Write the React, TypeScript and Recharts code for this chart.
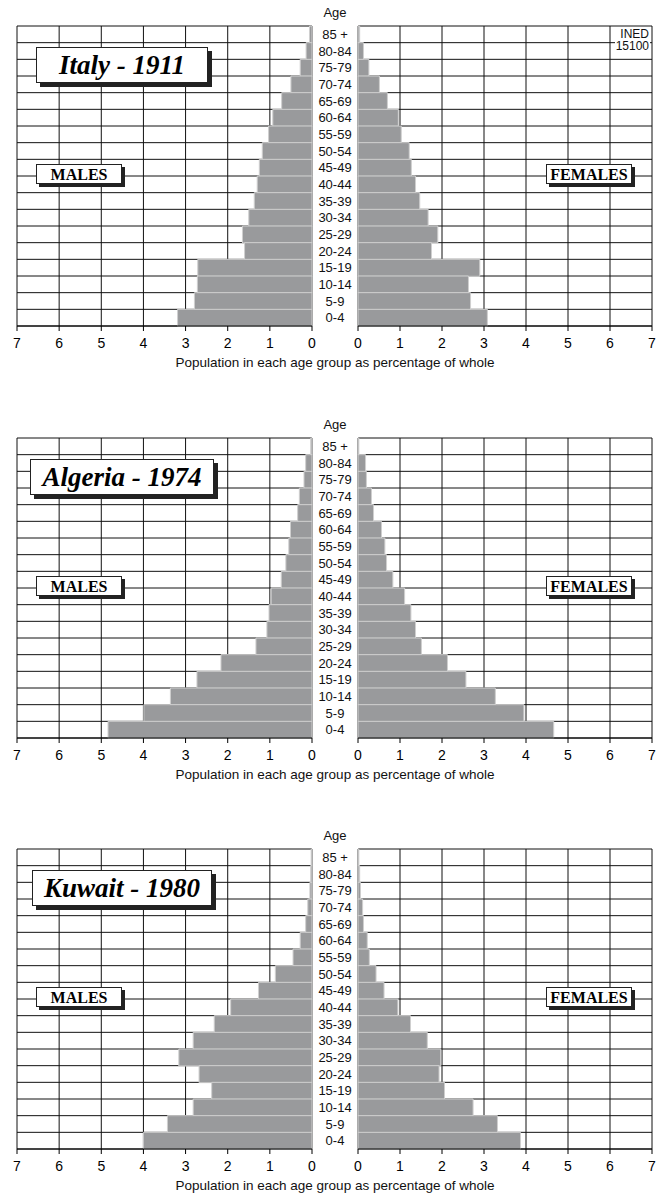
import React from "react";
import { BarChart, Bar, XAxis, YAxis, CartesianGrid } from "recharts";

// age groups, top row first
const AGES = [
    "85 +", "80-84", "75-79", "70-74", "65-69", "60-64", "55-59", "50-54", "45-49",
    "40-44", "35-39", "30-34", "25-29", "20-24", "15-19", "10-14", "5-9", "0-4",
];

const TICKS = [0, 1, 2, 3, 4, 5, 6, 7];

// % of whole population, same order as AGES
const ITALY_MALES = [0.06, 0.14, 0.28, 0.5, 0.72, 0.93, 1.03, 1.18, 1.25, 1.3, 1.37, 1.5, 1.65, 1.6, 2.71, 2.72, 2.79, 3.19];
const ITALY_FEMALES = [0.04, 0.13, 0.26, 0.51, 0.7, 0.96, 1.03, 1.22, 1.27, 1.37, 1.47, 1.67, 1.9, 1.75, 2.9, 2.63, 2.68, 3.08];

const ALGERIA_MALES = [0.03, 0.15, 0.19, 0.3, 0.34, 0.51, 0.55, 0.62, 0.73, 0.97, 1.02, 1.07, 1.33, 2.16, 2.73, 3.36, 3.99, 4.84];
const ALGERIA_FEMALES = [0.02, 0.18, 0.2, 0.32, 0.37, 0.56, 0.64, 0.68, 0.83, 1.11, 1.26, 1.37, 1.51, 2.13, 2.57, 3.27, 3.95, 4.66];

const KUWAIT_MALES = [0.02, 0.03, 0.05, 0.1, 0.15, 0.28, 0.45, 0.87, 1.27, 1.93, 2.32, 2.82, 3.16, 2.68, 2.38, 2.82, 3.43, 4.0];
const KUWAIT_FEMALES = [0.02, 0.04, 0.06, 0.11, 0.13, 0.22, 0.27, 0.43, 0.62, 0.95, 1.25, 1.65, 1.97, 1.93, 2.06, 2.74, 3.32, 3.87];

const SANS = "'Liberation Sans', Arial, sans-serif";
const SERIF = "'Liberation Serif', 'Times New Roman', serif";
const AGE_COL = 46;
const PAD = 10; // room so the right panel's "0" is not clipped

const rowLines = ({ offset }: any) => {
    const n = AGES.length;
    return Array.from({ length: n + 1 }, (_, i) => offset.top + (i * offset.height) / n);
};

const AgeTick = (props: any) => {
    const { x, y, payload } = props;
    return (
        <text x={x + AGE_COL / 2} y={y} dy="0.36em" textAnchor="middle" fontSize={13} fontFamily={SANS} fill="#111">
            {payload.value}
        </text>
    );
};

const boxStyle: React.CSSProperties = {
    position: "absolute",
    background: "#fff",
    border: "1px solid #222",
    boxShadow: "4px 4px 0 #222",
    fontFamily: SERIF,
    fontWeight: "bold",
    color: "#000",
    textAlign: "center",
    whiteSpace: "nowrap",
    zIndex: 2,
};

interface PyramidProps {
    title: string;
    males: number[];
    females: number[];
    top: number;
    titleLeft: number;
    titleWidth: number;
    reference?: boolean;
}

const Pyramid: React.FC<PyramidProps> = ({ title, males, females, top, titleLeft, titleWidth, reference }) => {
    const maleRows = AGES.map((age, i) => ({ age, value: males[i] }));
    const femaleRows = AGES.map((age, i) => ({ age, value: females[i] }));
    const axisTick = { fill: "#000", fontSize: 14, fontFamily: SANS };

    return (
        <div style={{ position: "absolute", left: 0, top, width: 665, height: 380 }}>
            <div style={{ position: "absolute", left: 0, top: 0 }}>
                <BarChart
                    layout="vertical"
                    width={358}
                    height={366}
                    data={maleRows}
                    margin={{ top: 26, right: 0, bottom: 0, left: 17 }}
                    barCategoryGap={0}
                >
                    <CartesianGrid stroke="#111" horizontalCoordinatesGenerator={rowLines} />
                    <XAxis
                        type="number"
                        domain={[0, 7]}
                        ticks={TICKS}
                        reversed
                        interval={0}
                        height={40}
                        tickSize={5}
                        tickMargin={7}
                        stroke="#000"
                        tick={axisTick}
                    />
                    <YAxis
                        type="category"
                        dataKey="age"
                        orientation="right"
                        width={AGE_COL}
                        tickSize={0}
                        tickMargin={0}
                        axisLine={false}
                        tickLine={false}
                        interval={0}
                        tick={<AgeTick />}
                    />
                    <Bar dataKey="value" fill="#999a9c" stroke="#cfcfcf" strokeWidth={1} isAnimationActive={false} />
                </BarChart>
            </div>
            <div style={{ position: "absolute", left: 358 - PAD, top: 0 }}>
                <BarChart
                    layout="vertical"
                    width={307 + PAD}
                    height={366}
                    data={femaleRows}
                    margin={{ top: 26, right: 13, bottom: 0, left: PAD }}
                    barCategoryGap={0}
                >
                    <CartesianGrid stroke="#111" horizontalCoordinatesGenerator={rowLines} />
                    <XAxis
                        type="number"
                        domain={[0, 7]}
                        ticks={TICKS}
                        interval={0}
                        height={40}
                        tickSize={5}
                        tickMargin={7}
                        stroke="#000"
                        tick={axisTick}
                    />
                    <YAxis type="category" dataKey="age" hide />
                    <Bar dataKey="value" fill="#999a9c" stroke="#cfcfcf" strokeWidth={1} isAnimationActive={false} />
                </BarChart>
            </div>

            <div style={{ position: "absolute", left: 312, width: AGE_COL, top: 5, textAlign: "center", fontFamily: SANS, fontSize: 13, color: "#111" }}>
                Age
            </div>
            <div style={{ position: "absolute", left: 0, width: 670, top: 355, textAlign: "center", fontFamily: SANS, fontSize: 13.5, color: "#111", whiteSpace: "nowrap" }}>
                Population in each age group as percentage of whole
            </div>

            <div style={{ ...boxStyle, left: titleLeft, top: 47, width: titleWidth, height: 34, lineHeight: "34px", fontSize: 27, fontStyle: "italic" }}>
                {title}
            </div>
            <div style={{ ...boxStyle, left: 36, top: 164, width: 84, height: 18, lineHeight: "19px", fontSize: 16, boxShadow: "3px 3px 0 #222" }}>
                MALES
            </div>
            <div style={{ ...boxStyle, left: 546, top: 164, width: 84, height: 18, lineHeight: "19px", fontSize: 16, boxShadow: "3px 3px 0 #222" }}>
                FEMALES
            </div>

            {reference && (
                <div style={{ position: "absolute", right: 15, top: 28, background: "#fff", fontFamily: SANS, fontSize: 12, lineHeight: "12px", textAlign: "right", color: "#111", zIndex: 2, padding: "0 1px" }}>
                    INED
                    <br />
                    15100
                </div>
            )}
        </div>
    );
};

export default function App() {
    return (
        <div style={{ position: "absolute", left: 0, top: 0, width: 665, height: 1194, background: "#fff" }}>
            <Pyramid title="Italy - 1911" males={ITALY_MALES} females={ITALY_FEMALES} top={0} titleLeft={36} titleWidth={170} reference />
            <Pyramid title="Algeria - 1974" males={ALGERIA_MALES} females={ALGERIA_FEMALES} top={412} titleLeft={30} titleWidth={182} />
            <Pyramid title="Kuwait - 1980" males={KUWAIT_MALES} females={KUWAIT_FEMALES} top={823} titleLeft={32} titleWidth={178} />
        </div>
    );
}
